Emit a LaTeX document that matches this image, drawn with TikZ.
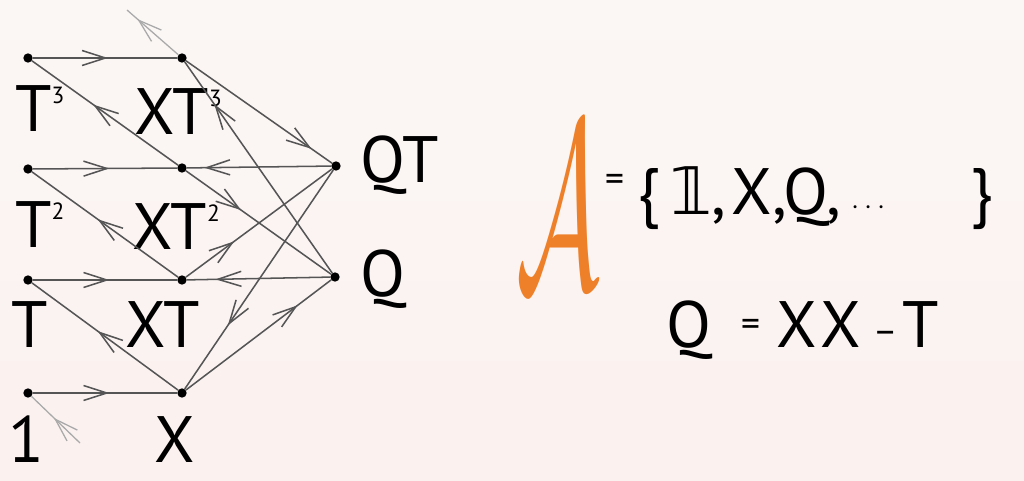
\documentclass[tikz,border=0pt]{standalone}
\usepackage{fontspec}
\setmainfont{PT Sans}
\newfontfamily\symfont{DejaVu Sans}
\usetikzlibrary{arrows.meta, decorations.markings}
\definecolor{linkgray}{RGB}{85,85,85}
\definecolor{loosegray}{RGB}{170,170,170}
\definecolor{setorange}{RGB}{238,128,42}
\definecolor{bgtop}{RGB}{251,247,245}
\definecolor{bgmid}{RGB}{250,235,233}
\definecolor{bgbot}{RGB}{251,241,239}
\newcommand{\pw}[1]{\raisebox{0.44em}{\fontsize{20}{20}\selectfont #1}}
\newcommand{\smallop}[2]{\raisebox{#1}{\fontsize{32}{32}\selectfont #2}}
\tikzset{
  dot/.style={circle, fill=black, inner sep=0pt, minimum size=0.28cm},
  lbl/.style={anchor=base west, inner sep=0pt, font=\fontsize{56}{60}\selectfont},
  link/.style={draw=linkgray, line width=1.3pt},
  loose/.style={draw=loosegray, line width=1.1pt},
  midarr/.style={postaction={decorate, decoration={markings,
      mark=at position #1 with {\arrow{Straight Barb[length=7mm,width=4.5mm]}}}}}
}

\begin{document}
\begin{tikzpicture}[x=0.03cm, y=-0.03cm]

% background
\shade[top color=bgtop, middle color=bgmid, bottom color=bgbot]
  (0,0) rectangle (1024,481);
\useasboundingbox (0,0) rectangle (1024,481);

% Column 1 -- powers of T
\node[dot] (t3)  at (28,58)  {};
\node[dot] (t2)  at (28,169) {};
\node[dot] (t1)  at (28,280) {};
\node[dot] (one) at (28,393) {};

% Column 2 -- times X
\node[dot] (xt3) at (182,58)  {};
\node[dot] (xt2) at (182,168) {};
\node[dot] (xt1) at (182,280) {};
\node[dot] (x)   at (182,393) {};

% Column 3
\node[dot] (qt) at (336,166) {};
\node[dot] (q)  at (335,277) {};

% loose ends
\coordinate (up)   at (127,10);
\coordinate (down) at (80,443);

% labels
\node[lbl] (lt3)  at (15,132) {T\pw{3}};
\node[lbl] (lxt3) at (134,135) {XT\pw{3}};
\node[lbl] (lt2)  at (15,248) {T\pw{2}};
\node[lbl] (lxt2) at (132,250) {XT\pw{2}};
\node[lbl] (lt1)  at (11,347) {T};
\node[lbl] (lxt1) at (125,347) {XT};
\node[lbl] (lone) at (8,462)  {1};
\node[lbl] (lx)   at (154,462) {X};
\node[lbl] (lqt)  at (360,183) {QT};
\node[lbl] (lq)   at (360,296) {Q};

% Arrows -- horizontal
\draw[link, midarr=0.52] (t3)  -- (xt3);
\draw[link, midarr=0.53] (t2)  -- (xt2);
\draw[link, midarr=0.53] (t1)  -- (xt1);
\draw[link, midarr=0.53] (one) -- (x);
\draw[link, midarr=0.88] (qt)  -- (xt2);
\draw[link, midarr=0.80] (q)   -- (xt1);

% Arrows -- back to column 1
\draw[link, midarr=0.58] (xt2) -- (t3);
\draw[link, midarr=0.55] (xt1) -- (t2);
\draw[link, midarr=0.55] (x)   -- (t1);

% Arrows -- column 2 and column 3
\draw[link, midarr=0.86] (xt3) -- (qt);
\draw[link, midarr=0.80] (q)   -- (xt3);
\draw[link, midarr=0.38] (xt2) -- (q);
\draw[link, midarr=0.33] (xt1) -- (qt);
\draw[link, midarr=0.71] (qt)  -- (x);
\draw[link, midarr=0.77] (x)   -- (q);

% loose arrows
\draw[loose, midarr=0.80] (xt3)  -- (up);
\draw[loose, midarr=0.54] (down) -- (one);

% the set
\node[text=setorange, inner sep=0pt] (alg) at (558,206)
  {\resizebox{2.5cm}{4.9cm}{$\mathcal{A}$}};
\node[lbl] (aset) at (605,215)
  {\smallop{20pt}{=}\hspace{0.4cm}\{\hspace{0.3cm}{\symfont 𝟙},\hspace{0.15cm}X,\hspace{-0.1cm}Q,\hspace{0.3cm}{\fontsize{72}{72}\selectfont$\cdots$}\hspace{2.55cm}\}};
\node[lbl] (qdef) at (666,347)
  {Q\hspace{0.9cm}\smallop{9pt}{=}\hspace{0.5cm}X\hspace{0.1cm}X\hspace{0.35cm}\smallop{3pt}{--}\hspace{0.15cm}T};

\end{tikzpicture}
\end{document}
